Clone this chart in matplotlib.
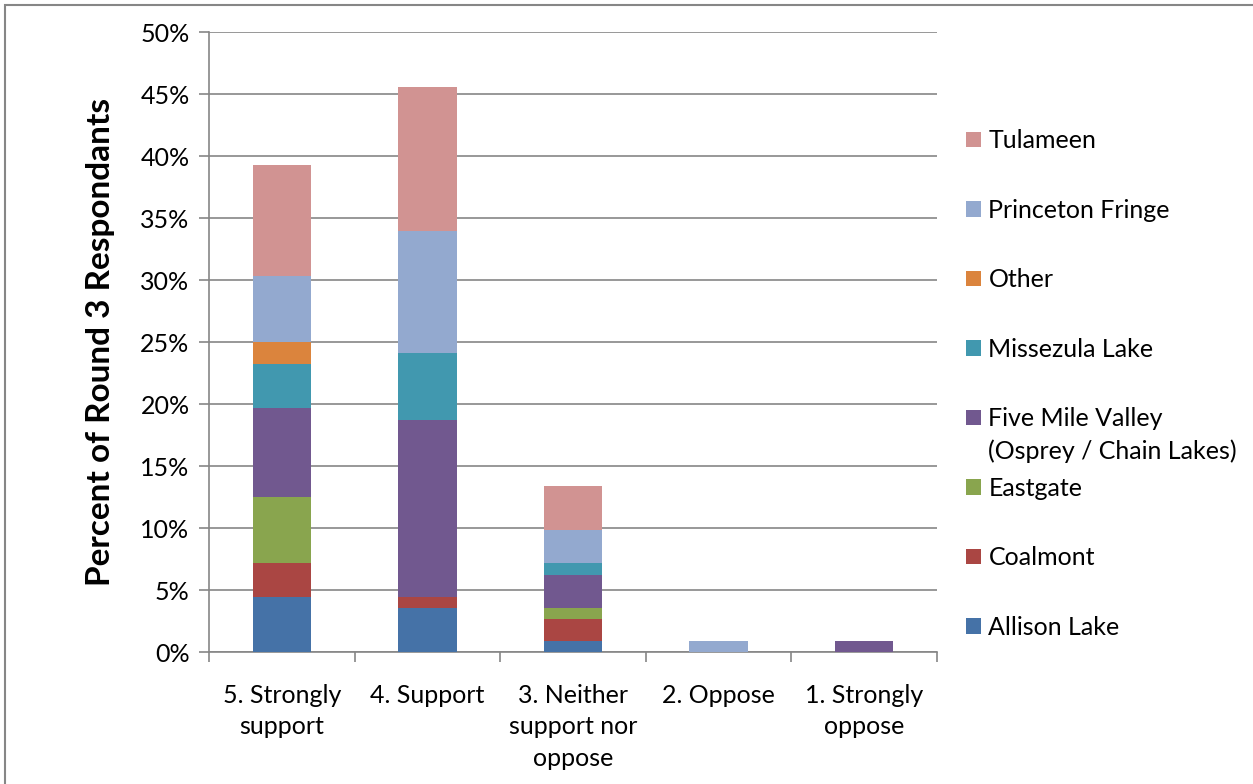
import matplotlib
matplotlib.use("Agg")
import matplotlib.pyplot as plt
from matplotlib.patches import Patch, Rectangle
from matplotlib.ticker import FixedLocator, FuncFormatter
import numpy as np

plt.rcParams["font.family"] = ["Lato", "DejaVu Sans"]

# share of round 3 respondents (%)
categories = ["5. Strongly\nsupport", "4. Support", "3. Neither\nsupport nor\noppose",
              "2. Oppose", "1. Strongly\noppose"]
series_names = ["Allison Lake", "Coalmont", "Eastgate", "Five Mile Valley",
                "Missezula Lake", "Other", "Princeton Fringe", "Tulameen"]
allison_lake = [4.46, 3.57, 0.89, 0.0, 0.0]
coalmont = [2.68, 0.89, 1.79, 0.0, 0.0]
eastgate = [5.36, 0.0, 0.89, 0.0, 0.0]
five_mile_valley = [7.14, 14.29, 2.68, 0.0, 0.89]
missezula_lake = [3.57, 5.36, 0.89, 0.0, 0.0]
other = [1.79, 0.0, 0.0, 0.0, 0.0]
princeton_fringe = [5.36, 9.82, 2.68, 0.89, 0.0]
tulameen = [8.93, 11.61, 3.57, 0.0, 0.0]

colors = ["#4572A7", "#AA4643", "#89A54E", "#71588F",
          "#4198AF", "#DB843D", "#93A9CF", "#D19392"]
values = [allison_lake, coalmont, eastgate, five_mile_valley,
          missezula_lake, other, princeton_fringe, tulameen]

GRAY = "#868686"
FS = 18

fig = plt.figure(figsize=(12.53, 7.84), dpi=100)
ax = fig.add_axes([209 / 1253, 1 - 652 / 784, (937 - 209) / 1253, (652 - 32) / 784])

x = np.arange(len(categories))
bottom = np.zeros(len(categories))
handles = []
for name, vals, col in zip(series_names, values, colors):
    ax.bar(x, vals, width=0.4, bottom=bottom, color=col, linewidth=0, zorder=3)
    bottom += np.array(vals)
    handles.append(Patch(facecolor=col, edgecolor="none", label=name))

ax.set_xlim(-0.5, len(categories) - 0.5)
ax.set_ylim(0, 50)
ax.set_yticks(np.arange(0, 51, 5))
ax.yaxis.set_major_formatter(FuncFormatter(lambda v, p: f"{v:.0f}%"))
ax.grid(axis="y", color=GRAY, linewidth=1.2, zorder=0)
ax.set_axisbelow(True)

ax.set_xticks(x)
ax.set_xticklabels(categories, fontsize=FS, linespacing=1.45)
ax.xaxis.set_minor_locator(FixedLocator(np.arange(-0.5, len(categories), 1.0)))
ax.tick_params(axis="x", which="major", length=0, pad=23)
ax.tick_params(axis="x", which="minor", length=7, color=GRAY, width=1.2)
ax.tick_params(axis="y", length=7, color=GRAY, width=1.2, labelsize=FS, pad=7)

for side in ["top", "right"]:
    ax.spines[side].set_visible(False)
for side in ["left", "bottom"]:
    ax.spines[side].set_color(GRAY)
    ax.spines[side].set_linewidth(1.2)

ax.set_ylabel("Percent of Round 3 Respondants", fontsize=24, fontweight="bold", labelpad=18)

leg = fig.legend(handles=handles[::-1], loc="center left",
                 bbox_to_anchor=(966 / 1253, 1 - 384 / 784), frameon=False,
                 fontsize=FS, handlelength=0.6, handleheight=0.6,
                 handletextpad=0.3, labelspacing=1.86, borderpad=0, borderaxespad=0)

# second line of the Five Mile Valley entry hangs below its first line
fig.canvas.draw()
for t in leg.get_texts():
    if t.get_text() == "Five Mile Valley":
        bb = t.get_window_extent()
        fig.text(bb.x0 / fig.bbox.width, (bb.y0 - 9) / fig.bbox.height,
                 "(Osprey / Chain Lakes)", fontsize=FS, va="top", ha="left")

fig.add_artist(Rectangle((5 / 1253, -0.1), 1.2, 1.1 - 5 / 784, transform=fig.transFigure,
                         fill=False, edgecolor=GRAY, linewidth=1.5))

fig.savefig("out.png", dpi=100)
